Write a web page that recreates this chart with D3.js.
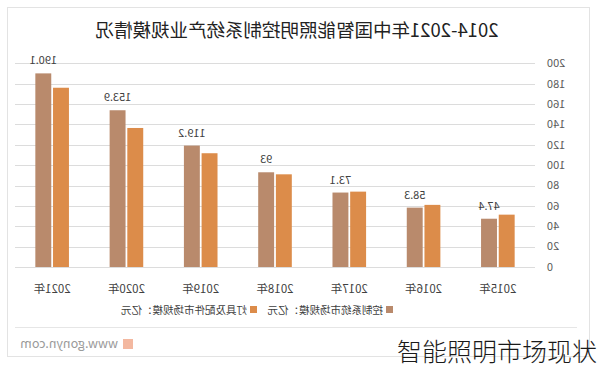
<!DOCTYPE html>
<html>
<head>
<meta charset="utf-8">
<script src="https://cdn.jsdelivr.net/npm/d3@7"></script>
<style>
  html, body { margin: 0; padding: 0; background: #fff; }
  svg { display: block; font-family: "Noto Sans CJK SC", "Noto Sans", sans-serif; }
</style>
</head>
<body>
<svg id="chart" width="600" height="369"></svg>
<script>
// data
const years = ["2015年", "2016年", "2017年", "2018年", "2019年", "2020年", "2021年"];
const ctrlValues = [47.4, 58.3, 73.1, 93, 119.2, 153.9, 190.1];   // 控制系统市场规模
const lampValues = [51.4, 61, 74, 91, 111.7, 136.5, 176];          // 灯具及配件市场规模
const yTicks = [0, 20, 40, 60, 80, 100, 120, 140, 160, 180, 200];
const seriesNames = ["控制系统市场规模：亿元", "灯具及配件市场规模：亿元"];
const colors = { ctrl: "#b98a6c", lamp: "#dc8c4a" };

const svg = d3.select("#chart");

// whole picture is a mirror image, so draw normally then flip
const g = svg.append("g").attr("transform", "translate(600,0) scale(-1,1)");

// card frame
g.append("rect")
  .attr("x", 10.5).attr("y", 7.5).attr("width", 582).attr("height", 349)
  .attr("fill", "#fff").attr("stroke", "#e3e3e3");
g.append("line")
  .attr("x1", 23).attr("x2", 585).attr("y1", 327.5).attr("y2", 327.5)
  .attr("stroke", "#e6e6e6");

// title
g.append("text")
  .attr("x", 303).attr("y", 37)
  .attr("text-anchor", "middle")
  .attr("font-size", 18.5)
  .attr("fill", "#222")
  .text("2014-2021年中国智能照明控制系统产业规模情况");

// scales
const x0 = d3.scaleBand().domain(years).range([65, 585]).paddingInner(0.5).paddingOuter(0.25);
const x1 = d3.scaleBand().domain(["lamp", "ctrl"]).range([0, x0.bandwidth()]).padding(0.1);
const y = d3.scaleLinear().domain([0, 200]).range([267, 63.3]);

// grid
g.selectAll(".grid")
  .data(yTicks)
  .enter().append("line")
  .attr("x1", 65).attr("x2", 585)
  .attr("y1", d => Math.round(y(d)) + 0.5)
  .attr("y2", d => Math.round(y(d)) + 0.5)
  .attr("stroke", "#dcdcdc");

// y labels
g.selectAll(".ylab")
  .data(yTicks)
  .enter().append("text")
  .attr("x", 53).attr("y", d => y(d))
  .attr("dy", "0.35em")
  .attr("text-anchor", "end")
  .attr("font-size", 11)
  .attr("fill", "#595959")
  .text(d => d);

// bars
const rows = years.map((yr, i) => ({ year: yr, ctrl: ctrlValues[i], lamp: lampValues[i] }));
const grp = g.selectAll(".grp")
  .data(rows)
  .enter().append("g")
  .attr("transform", d => `translate(${x0(d.year)},0)`);

grp.selectAll("rect")
  .data(d => ["lamp", "ctrl"].map(k => ({ key: k, value: d[k] })))
  .enter().append("rect")
  .attr("x", d => x1(d.key))
  .attr("width", x1.bandwidth())
  .attr("y", d => y(d.value))
  .attr("height", d => y(0) - y(d.value))
  .attr("fill", d => colors[d.key]);

// value labels on control-system bars
grp.append("text")
  .attr("x", x1("ctrl") + x1.bandwidth() / 2)
  .attr("y", d => y(d.ctrl) - 9)
  .attr("text-anchor", "middle")
  .attr("font-size", 11)
  .attr("fill", "#404040")
  .text(d => d.ctrl);

// x labels
g.selectAll(".xlab")
  .data(years)
  .enter().append("text")
  .attr("x", d => x0(d) + x0.bandwidth() / 2)
  .attr("y", 293)
  .attr("text-anchor", "middle")
  .attr("font-size", 11.5)
  .attr("fill", "#404040")
  .text(d => d);

// legend
const legend = g.append("g").attr("transform", "translate(207,310)");
const legItems = [
  { name: seriesNames[0], color: colors.ctrl, dx: 0 },
  { name: seriesNames[1], color: colors.lamp, dx: 136 }
];
legItems.forEach(it => {
  legend.append("rect")
    .attr("x", it.dx).attr("y", -4).attr("width", 7).attr("height", 7)
    .attr("fill", it.color);
  legend.append("text")
    .attr("x", it.dx + 10).attr("y", 0).attr("dy", "0.35em")
    .attr("font-size", 10.5)
    .attr("fill", "#404040")
    .text(it.name);
});

// footer
g.append("rect")
  .attr("x", 467).attr("y", 339).attr("width", 10).attr("height", 10)
  .attr("fill", "#f3b8a0");
g.append("text")
  .attr("x", 482).attr("y", 348)
  .attr("font-size", 12.5)
  .attr("fill", "#9a9a9a")
  .text("www.gonyn.com");

// caption (not mirrored)
svg.append("text")
  .attr("x", 597).attr("y", 361)
  .attr("text-anchor", "end")
  .attr("font-size", 25)
  .attr("font-weight", 300)
  .attr("fill", "#1a1a1a")
  .text("智能照明市场现状");
</script>
</body>
</html>
